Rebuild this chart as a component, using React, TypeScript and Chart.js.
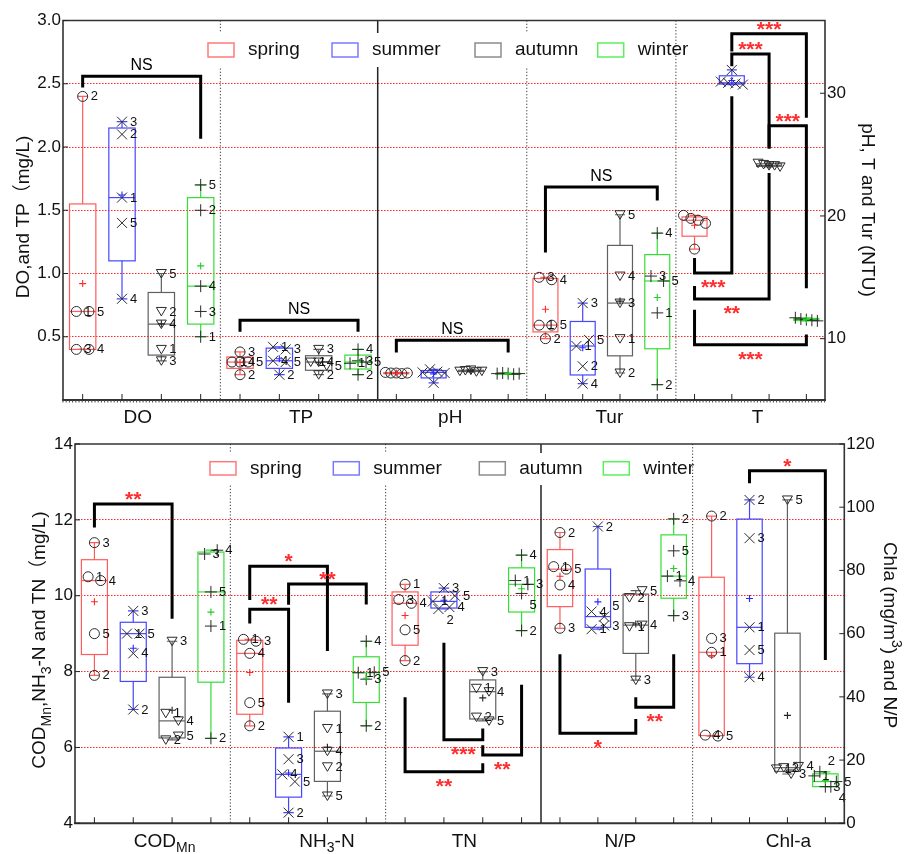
import React, { useEffect, useRef } from 'react';
import { Chart, registerables } from 'chart.js';

Chart.register(...registerables);

const FONT = '"Liberation Sans", Arial, "Noto Sans CJK SC", sans-serif';

// ---------- seasons & styles ----------
const seasons = ['spring', 'summer', 'autumn', 'winter'];
const boxColors = ['#ff5c5c', '#4646ff', '#606060', '#36dd36'];
const legendColors = ['#ff7a7a', '#7a7aff', '#8c8c8c', '#5cee5c'];
const meanColors = ['#ff2a2a', '#2a2aff', '#222222', '#22cc22'];
const markerStyles = ['circle', 'crossRot', 'triangleDown', 'plus'];
const sampleIds = ['1', '2', '3', '4', '5'];

// ---------- top panel data: [season][sample 1..5] ----------
const doValues = [
  [0.7, 2.4, 0.4, 0.4, 0.7],
  [1.6, 2.1, 2.2, 0.8, 1.4],
  [0.4, 0.7, 0.31, 0.6, 1.0],
  [0.5, 1.5, 0.7, 0.9, 1.7],
];
const tpValues = [
  [0.3, 0.2, 0.38, 0.3, 0.3],
  [0.42, 0.2, 0.4, 0.31, 0.3],
  [0.3, 0.2, 0.4, 0.3, 0.27],
  [0.29, 0.2, 0.31, 0.4, 0.3],
];
const phValues = [
  [7.25, 7.2, 7.2, 7.15, 7.2],
  [7.25, 7.5, 7.3, 6.4, 7.2],
  [7.35, 7.4, 7.45, 7.3, 7.35],
  [7.15, 7.2, 7.15, 7.1, 7.15],
];
const turValues = [
  [11.1, 10.0, 15.0, 14.8, 11.1],
  [9.4, 7.75, 12.9, 6.33, 9.9],
  [10.0, 7.2, 12.9, 15.1, 20.1],
  [12.1, 6.25, 15.1, 18.6, 14.7],
];
const tValues = [
  [20.05, 17.3, 19.8, 19.65, 19.4],
  [30.95, 31.9, 30.85, 30.8, 30.7],
  [24.3, 24.2, 24.1, 24.1, 24.0],
  [11.7, 11.6, 11.55, 11.5, 11.45],
];

// ---------- bottom panel data ----------
const codValues = [
  [10.5, 7.9, 11.4, 10.4, 9.0],
  [9.0, 7.0, 9.6, 8.48, 9.0],
  [6.9, 6.2, 8.8, 6.7, 6.3],
  [9.2, 6.24, 11.1, 11.2, 10.1],
];
const nh3Values = [
  [8.85, 6.57, 8.8, 8.48, 7.18],
  [6.28, 4.28, 5.69, 5.29, 5.1],
  [6.5, 5.49, 7.41, 5.9, 4.72],
  [7.97, 6.57, 7.8, 8.8, 7.98],
];
const tnValues = [
  [10.3, 8.29, 9.9, 9.8, 9.1],
  [9.85, 9.65, 10.2, 9.7, 10.0],
  [7.56, 6.8, 8.0, 7.47, 6.7],
  [10.4, 9.08, 10.3, 11.07, 10.06],
];
const npValues = [
  [81.2, 92.0, 61.7, 75.4, 80.4],
  [61.4, 93.9, 62.6, 67.0, 65.4],
  [62.2, 71.4, 45.3, 62.7, 73.6],
  [78.2, 96.3, 65.7, 76.7, 86.2],
];
const chlValues = [
  [54.1, 97.2, 58.5, 27.9, 27.6],
  [62.0, 102.3, 90.2, 46.2, 54.8],
  [17.2, 17.6, 15.6, 18.0, 102.3],
  [15.0, 16.3, 11.6, 11.6, 13.2],
];

// ---------- tick labels ----------
const topLeftTicks = [0.5, 1.0, 1.5, 2.0, 2.5, 3.0];
const topRightTicks = [10, 20, 30];
const bottomLeftTicks = [4, 6, 8, 10, 12, 14];
const bottomRightTicks = [0, 20, 40, 60, 80, 100, 120];

// ---------- significance brackets ----------
// [category, from season, to season, bar level, leg end at "from", leg end at "to", mark]
const topBrackets = [
  [0, 0, 3, 2.56, 2.47, 2.065, 'NS'],
  [1, 0, 3, 0.63, 0.54, 0.54, 'NS'],
  [2, 0, 3, 9.86, 8.88, 8.88, 'NS'],
  [3, 0, 3, 22.36, 17.03, 21.25, 'NS'],
  [4, 1, 3, 34.86, 33.4, 28.0, '***'],
  [4, 1, 2, 33.2, 32.2, 25.5, '***'],
  [4, 2, 3, 27.36, 25.5, 14.1, '***'],
  [4, 0, 1, 15.35, 16.57, 29.75, '***'],
  [4, 0, 2, 13.23, 14.3, 23.5, '**'],
  [4, 0, 3, 9.5, 12.36, 10.33, '***'],
];
const bottomBrackets = [
  [0, 0, 2, 12.42, 11.8, 9.39, '**'],
  [1, 0, 2, 10.78, 9.89, 8.54, '*'],
  [1, 1, 3, 10.31, 9.76, 9.77, '**'],
  [1, 0, 1, 9.64, 9.27, 7.18, '**'],
  [2, 1, 2, 6.2, 8.76, 6.5, '***'],
  [2, 2, 3, 5.8, 6.06, 7.65, '**'],
  [2, 0, 2, 5.36, 7.32, 5.58, '**'],
  [3, 0, 2, 28.5, 53.5, 33, '*'],
  [3, 2, 3, 36.7, 39.9, 53.5, '**'],
  [4, 1, 3, 111.5, 107.6, 51.7, '*'],
];

// ---------- panel definitions (layout) ----------
type Part = { t: string; sub?: boolean; sup?: boolean };

const topDef = {
  top: 0, width: 917, height: 428,
  area: { left: 63, right: 825, top: 20.5, bottom: 400 },
  split: 377.7, leftSlots: 8, rightSlots: 12,
  yl: { min: 0, max: 3, ticks: topLeftTicks, grid: [0.5, 1.0, 1.5, 2.0, 2.5], fmt: (v: number) => v.toFixed(1) },
  yr: { min: 5, max: 35.93, ticks: topRightTicks, fmt: (v: number) => String(v) },
  cats: [
    { name: [{ t: 'DO' }], values: doValues, x: 'xl', slot: 0, y: 'yl', labels: true, dx: -4 },
    { name: [{ t: 'TP' }], values: tpValues, x: 'xl', slot: 1, y: 'yl', labels: true, dx: 2 },
    { name: [{ t: 'pH' }], values: phValues, x: 'xr', slot: 0, y: 'yr', labels: false, dx: -2 },
    { name: [{ t: 'Tur' }], values: turValues, x: 'xr', slot: 1, y: 'yr', labels: true, dx: 8 },
    { name: [{ t: 'T' }], values: tValues, x: 'xr', slot: 2, y: 'yr', labels: false, dx: 7 },
  ],
  separators: [
    { x: 'xl', at: 3.5, solid: false },
    { x: 'xl', at: 7.5, solid: true },
    { x: 'xr', at: 3.5, solid: false },
    { x: 'xr', at: 7.5, solid: false },
  ],
  brackets: topBrackets,
  legend: { bg: [200, 33, 675, 67], rects: [208, 332, 475, 597.7], y0: 43, y1: 57 },
  labelBaseline: 423.3,
  leftTitle: { x: 22, y: 217, parts: [{ t: 'DO,and TP（mg/L)' }] as Part[] },
  rightTitle: { x: 869, y: 210, parts: [{ t: 'pH, T and Tur (NTU)' }] as Part[] },
  minorTicks: true,
};

const bottomDef = {
  top: 428, width: 917, height: 426,
  area: { left: 75, right: 844.3, top: 16, bottom: 395.3 },
  split: 541, leftSlots: 12, rightSlots: 8,
  yl: { min: 4, max: 14, ticks: bottomLeftTicks, grid: [6, 8, 10, 12], fmt: (v: number) => String(v) },
  yr: { min: 0, max: 120, ticks: bottomRightTicks, fmt: (v: number) => String(v) },
  cats: [
    { name: [{ t: 'COD' }, { t: 'Mn', sub: true }], values: codValues, x: 'xl', slot: 0, y: 'yl', labels: true, dx: 12 },
    { name: [{ t: 'NH' }, { t: '3', sub: true }, { t: '-N' }], values: nh3Values, x: 'xl', slot: 1, y: 'yl', labels: true, dx: 19 },
    { name: [{ t: 'TN' }], values: tnValues, x: 'xl', slot: 2, y: 'yl', labels: true, dx: 1 },
    { name: [{ t: 'N/P' }], values: npValues, x: 'xr', slot: 0, y: 'yr', labels: true, dx: 3.5 },
    { name: [{ t: 'Chl-a' }], values: chlValues, x: 'xr', slot: 1, y: 'yr', labels: true, dx: 20 },
  ],
  separators: [
    { x: 'xl', at: 3.5, solid: false },
    { x: 'xl', at: 7.5, solid: false },
    { x: 'xl', at: 11.5, solid: true },
    { x: 'xr', at: 3.5, solid: false },
  ],
  brackets: bottomBrackets,
  legend: { bg: [205, 25, 690, 57], rects: [210, 333.3, 479.3, 603.3], y0: 33.7, y1: 47 },
  labelBaseline: 418.7,
  leftTitle: {
    x: 38, y: 212,
    parts: [{ t: 'COD' }, { t: 'Mn', sub: true }, { t: ',NH' }, { t: '3', sub: true }, { t: '-N and TN（mg/L)' }] as Part[],
  },
  rightTitle: {
    x: 891, y: 207,
    parts: [{ t: 'Chla (mg/m' }, { t: '3', sup: true }, { t: ') and N/P' }] as Part[],
  },
  minorTicks: false,
};

// ---------- drawing helpers ----------
function drawRich(ctx: CanvasRenderingContext2D, parts: Part[], x: number, y: number, size: number) {
  const small = Math.round(size * 0.72);
  const widths = parts.map((p) => {
    ctx.font = `${p.sub || p.sup ? small : size}px ${FONT}`;
    return ctx.measureText(p.t).width;
  });
  const total = widths.reduce((a, b) => a + b, 0);
  let cx = x - total / 2;
  ctx.textAlign = 'left';
  ctx.textBaseline = 'alphabetic';
  parts.forEach((p, i) => {
    ctx.font = `${p.sub || p.sup ? small : size}px ${FONT}`;
    const dy = p.sub ? size * 0.3 : p.sup ? -size * 0.42 : 0;
    ctx.fillText(p.t, cx, y + dy);
    cx += widths[i];
  });
  return total;
}

function drawMarker(ctx: CanvasRenderingContext2D, style: string, x: number, y: number) {
  const r = 5;
  ctx.beginPath();
  if (style === 'circle') {
    ctx.arc(x, y, r, 0, Math.PI * 2);
  } else if (style === 'crossRot') {
    ctx.moveTo(x - r, y - r); ctx.lineTo(x + r, y + r);
    ctx.moveTo(x + r, y - r); ctx.lineTo(x - r, y + r);
  } else if (style === 'triangleDown') {
    ctx.moveTo(x - r, y - r * 0.8); ctx.lineTo(x + r, y - r * 0.8); ctx.lineTo(x, y + r * 0.9); ctx.closePath();
  } else {
    ctx.moveTo(x - 6, y); ctx.lineTo(x + 6, y);
    ctx.moveTo(x, y - 6); ctx.lineTo(x, y + 6);
  }
  ctx.stroke();
}

function boxStats(vals: number[]) {
  const s = [...vals].sort((a, b) => a - b);
  return {
    min: s[0], q1: (s[0] + s[1]) / 2, med: s[2], q3: (s[3] + s[4]) / 2, max: s[4],
    mean: vals.reduce((a, b) => a + b, 0) / vals.length,
  };
}

function makePlugin(def: any) {
  return {
    id: 'boxPanel',
    afterDraw(chart: any) {
      const ctx: CanvasRenderingContext2D = chart.ctx;
      const a = chart.chartArea;
      const S = chart.scales;
      const cats = def.cats;
      const xPix = (ci: number, s: number) => S[cats[ci].x].getPixelForValue(cats[ci].slot * 4 + s);
      const yPix = (ci: number, v: number) => S[cats[ci].y].getPixelForValue(v);
      ctx.save();

      // separators
      for (const sep of def.separators) {
        const x = S[sep.x].getPixelForValue(sep.at);
        ctx.beginPath();
        ctx.strokeStyle = sep.solid ? '#222' : '#333';
        ctx.lineWidth = sep.solid ? 1.5 : 1;
        ctx.setLineDash(sep.solid ? [] : [1.2, 2]);
        ctx.moveTo(x, a.top); ctx.lineTo(x, a.bottom);
        ctx.stroke();
      }
      ctx.setLineDash([]);

      // legend background
      const L = def.legend;
      ctx.fillStyle = '#fff';
      ctx.fillRect(L.bg[0], L.bg[1], L.bg[2] - L.bg[0], L.bg[3] - L.bg[1]);

      // boxes
      cats.forEach((cat: any, ci: number) => {
        const slotW = Math.abs(S[cat.x].getPixelForValue(1) - S[cat.x].getPixelForValue(0));
        const bw = slotW * 0.67;
        const cw = slotW * 0.27;
        cat.values.forEach((vals: number[], si: number) => {
          const cx = xPix(ci, si);
          const st = boxStats(vals);
          const yq1 = yPix(ci, st.q1), yq3 = yPix(ci, st.q3), ymed = yPix(ci, st.med);
          const ymin = yPix(ci, st.min), ymax = yPix(ci, st.max);
          ctx.strokeStyle = boxColors[si];
          ctx.lineWidth = 1.2;
          // whiskers
          ctx.beginPath();
          ctx.moveTo(cx, yq3); ctx.lineTo(cx, ymax);
          ctx.moveTo(cx, yq1); ctx.lineTo(cx, ymin);
          ctx.moveTo(cx - cw / 2, ymax); ctx.lineTo(cx + cw / 2, ymax);
          ctx.moveTo(cx - cw / 2, ymin); ctx.lineTo(cx + cw / 2, ymin);
          ctx.stroke();
          // box
          ctx.strokeRect(cx - bw / 2, Math.min(yq1, yq3), bw, Math.max(Math.abs(yq1 - yq3), 1));
          ctx.beginPath();
          ctx.moveTo(cx - bw / 2, ymed); ctx.lineTo(cx + bw / 2, ymed);
          ctx.stroke();

          // points with dodge for overlapping values
          const pts = vals.map((v, i) => ({ v, i, y: yPix(ci, v), x: cx }));
          const sorted = [...pts].sort((p, q) => p.y - q.y);
          const clusters: any[][] = [];
          for (const p of sorted) {
            const last = clusters[clusters.length - 1];
            if (last && Math.abs(last[last.length - 1].y - p.y) < 8) last.push(p);
            else clusters.push([p]);
          }
          for (const cl of clusters) {
            const k = cl.length;
            if (k < 2) continue;
            const sp = k === 2 ? 12.6 : Math.min(8, 22 / (k - 1));
            cl.sort((p, q) => p.i - q.i);
            cl.forEach((p, j) => { p.x = cx + (j - (k - 1) / 2) * sp; });
          }
          ctx.strokeStyle = '#2a2a2a';
          ctx.lineWidth = 1;
          for (const p of pts) drawMarker(ctx, markerStyles[si], p.x, p.y);

          // mean
          const ym = yPix(ci, st.mean);
          ctx.strokeStyle = meanColors[si];
          ctx.lineWidth = 1.1;
          ctx.beginPath();
          ctx.moveTo(cx - 3.5, ym); ctx.lineTo(cx + 3.5, ym);
          ctx.moveTo(cx, ym - 3.5); ctx.lineTo(cx, ym + 3.5);
          ctx.stroke();

          // sample labels
          if (cat.labels) {
            ctx.fillStyle = '#111';
            ctx.font = `13px ${FONT}`;
            ctx.textAlign = 'left';
            ctx.textBaseline = 'middle';
            const placed: { x: number; y: number }[] = [];
            const tries = [0, 11, -11, 22, -22];
            for (const p of pts) {
              const lx = p.x + 8;
              let ly = p.y;
              for (const t of tries) {
                const cand = p.y + t;
                if (!placed.some((q) => Math.abs(q.x - lx) < 7 && Math.abs(q.y - cand) < 10)) { ly = cand; break; }
              }
              placed.push({ x: lx, y: ly });
              ctx.fillText(sampleIds[p.i], lx, ly + 0.5);
            }
          }
        });
      });

      // significance brackets
      for (const b of def.brackets) {
        const [ci, from, to, bar, la, lb, mark] = b as [number, number, number, number, number, number, string];
        const xa = xPix(ci, from), xb = xPix(ci, to);
        const yb = yPix(ci, bar), ya = yPix(ci, la), yc = yPix(ci, lb);
        ctx.strokeStyle = '#000';
        ctx.lineWidth = 3;
        ctx.lineJoin = 'miter';
        ctx.beginPath();
        ctx.moveTo(xa, ya); ctx.lineTo(xa, yb); ctx.lineTo(xb, yb); ctx.lineTo(xb, yc);
        ctx.stroke();
        const above = yb < Math.min(ya, yc);
        const mx = (xa + xb) / 2;
        ctx.textAlign = 'center';
        ctx.textBaseline = 'alphabetic';
        if (mark === 'NS') {
          ctx.fillStyle = '#000';
          ctx.font = `16px ${FONT}`;
          ctx.fillText(mark, mx, above ? yb - 6 : yb + 18);
        } else {
          ctx.fillStyle = '#ff2d2d';
          ctx.font = `bold 21px ${FONT}`;
          ctx.fillText(mark, mx, above ? yb + 2 : yb + 21);
        }
      }

      // legend items
      seasons.forEach((name, i) => {
        const x0 = L.rects[i];
        ctx.strokeStyle = legendColors[i];
        ctx.lineWidth = 1.5;
        ctx.strokeRect(x0, L.y0, 26, L.y1 - L.y0);
        ctx.fillStyle = '#111';
        ctx.font = `19px ${FONT}`;
        ctx.textAlign = 'left';
        ctx.textBaseline = 'middle';
        ctx.fillText(name, x0 + 40, (L.y0 + L.y1) / 2);
      });

      // frame
      ctx.strokeStyle = '#333';
      ctx.lineWidth = 1.6;
      ctx.beginPath();
      ctx.moveTo(a.left, a.bottom); ctx.lineTo(a.left, a.top); ctx.lineTo(a.right, a.top); ctx.lineTo(a.right, a.bottom);
      ctx.stroke();
      ctx.lineWidth = 2;
      ctx.beginPath();
      ctx.moveTo(a.left - 1, a.bottom); ctx.lineTo(a.right + 1, a.bottom);
      ctx.stroke();
      if (def.minorTicks) {
        ctx.lineWidth = 1;
        ctx.strokeStyle = '#444';
        ctx.beginPath();
        for (let x = a.left; x <= a.right; x += 3.2) {
          ctx.moveTo(x, a.bottom); ctx.lineTo(x, a.bottom + 2.5);
        }
        ctx.stroke();
      }

      // x ticks (inward) at each box
      ctx.strokeStyle = '#222';
      ctx.lineWidth = 1;
      ctx.beginPath();
      cats.forEach((cat: any, ci: number) => {
        for (let s = 0; s < 4; s++) {
          const x = xPix(ci, s);
          ctx.moveTo(x, a.bottom); ctx.lineTo(x, a.bottom - 6);
        }
      });
      // y ticks (inward)
      for (const v of def.yl.ticks) {
        const y = S.yl.getPixelForValue(v);
        ctx.moveTo(a.left, y); ctx.lineTo(a.left + 5, y);
      }
      for (const v of def.yr.ticks) {
        const y = S.yr.getPixelForValue(v);
        ctx.moveTo(a.right, y); ctx.lineTo(a.right - 5, y);
      }
      ctx.stroke();

      // category labels
      ctx.fillStyle = '#111';
      cats.forEach((cat: any, ci: number) => {
        const c = (xPix(ci, 0) + xPix(ci, 3)) / 2 + cat.dx;
        drawRich(ctx, cat.name, c, def.labelBaseline, 19);
      });

      // axis titles
      ctx.fillStyle = '#111';
      ctx.save();
      ctx.translate(def.leftTitle.x, def.leftTitle.y);
      ctx.rotate(-Math.PI / 2);
      drawRich(ctx, def.leftTitle.parts, 0, 7, 19);
      ctx.restore();
      ctx.save();
      ctx.translate(def.rightTitle.x, def.rightTitle.y);
      ctx.rotate(Math.PI / 2);
      drawRich(ctx, def.rightTitle.parts, 0, 7, 19);
      ctx.restore();

      ctx.restore();
    },
  };
}

function buildConfig(def: any) {
  const A = def.area;
  const W = A.right - A.left;
  const slotL = (def.split - A.left) / def.leftSlots;
  const slotR = (A.right - def.split) / def.rightSlots;
  const xlMin = -0.5;
  const xrMin = -0.5 - (def.split - A.left) / slotR;
  const tickFont = { family: FONT, size: 17 };
  return {
    type: 'scatter',
    data: { datasets: [] },
    options: {
      animation: false,
      responsive: false,
      maintainAspectRatio: false,
      devicePixelRatio: 1,
      events: [],
      layout: { padding: { top: A.top, bottom: def.height - A.bottom, left: 0, right: 0 } },
      plugins: { legend: { display: false }, tooltip: { enabled: false } },
      scales: {
        xl: { type: 'linear', position: 'bottom', display: false, min: xlMin, max: xlMin + W / slotL },
        xr: { type: 'linear', position: 'bottom', display: false, min: xrMin, max: xrMin + W / slotR },
        yl: {
          type: 'linear', position: 'left', min: def.yl.min, max: def.yl.max,
          afterFit: (s: any) => { s.width = A.left; },
          afterBuildTicks: (s: any) => { s.ticks = def.yl.ticks.map((v: number) => ({ value: v })); },
          ticks: { font: tickFont, color: '#111', padding: 2, callback: (v: any) => def.yl.fmt(Number(v)) },
          grid: {
            drawTicks: false, lineWidth: 1,
            color: (c: any) => (def.yl.grid.includes(c.tick && c.tick.value) ? 'rgba(255,0,0,0.85)' : 'rgba(0,0,0,0)'),
          },
          border: { display: false, dash: [1.5, 1.5] },
        },
        yr: {
          type: 'linear', position: 'right', min: def.yr.min, max: def.yr.max,
          afterFit: (s: any) => { s.width = def.width - A.right; },
          afterBuildTicks: (s: any) => { s.ticks = def.yr.ticks.map((v: number) => ({ value: v })); },
          ticks: { font: tickFont, color: '#111', padding: 2, callback: (v: any) => def.yr.fmt(Number(v)) },
          grid: { display: false, drawTicks: false },
          border: { display: false },
        },
      },
    },
    plugins: [makePlugin(def)],
  };
}

function Panel({ def }: { def: any }) {
  const ref = useRef<HTMLCanvasElement>(null);
  useEffect(() => {
    const chart = new Chart(ref.current as HTMLCanvasElement, buildConfig(def) as any);
    return () => chart.destroy();
  }, [def]);
  return (
    <canvas
      ref={ref}
      width={def.width}
      height={def.height}
      style={{ position: 'absolute', left: 0, top: def.top, width: def.width, height: def.height, display: 'block' }}
    />
  );
}

export default function App() {
  return (
    <div style={{ position: 'absolute', left: 0, top: 0, width: 917, height: 854, background: '#fff' }}>
      <Panel def={topDef} />
      <Panel def={bottomDef} />
    </div>
  );
}
